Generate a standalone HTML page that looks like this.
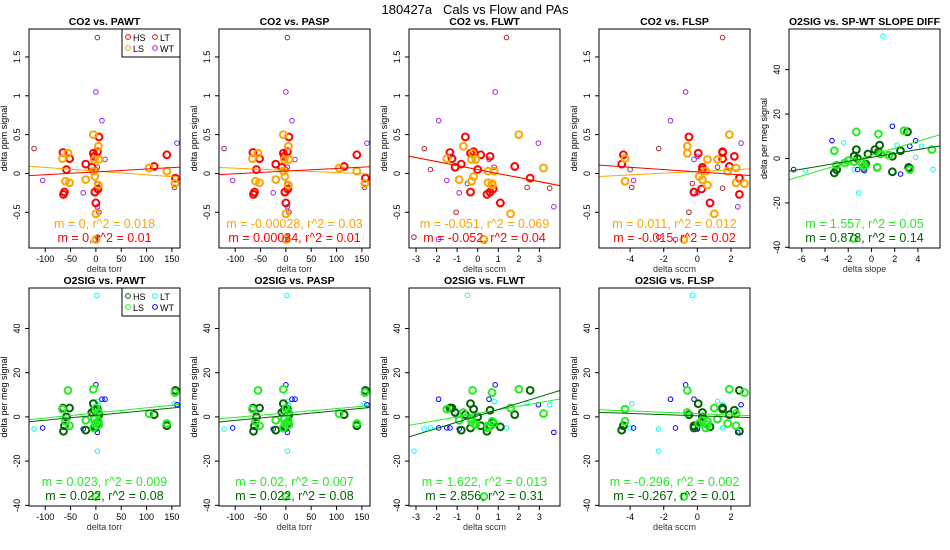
<!DOCTYPE html>
<html><head><meta charset="utf-8"><style>
body{margin:0;background:#fff;}
svg{display:block;font-family:"Liberation Sans",sans-serif;}
</style></head><body>
<svg id="c" width="950" height="550" viewBox="0 0 950 550">
<text x="475" y="14" font-size="13" text-anchor="middle" style="white-space:pre">180427a   Cals vs Flow and PAs</text>
</svg>
<script>
// record: [pawt, pasp, flwt, flsp, slope, co2, o2]
const hsPoints = [
[-65,-65,-1.35,1.5,-1.3,0.27,4],[-62,-62,0.6,-0.2,0.5,-0.24,-4],[-64,-64,0.45,2.5,-3.2,-0.27,-6.5],
[-58,-58,0,0.3,-1.2,0.05,0],[-52,-52,-1.25,1.5,0.3,0.19,4],[-20,-20,-0.8,-4.5,1.8,0.12,-6],
[-8,-8,-1.1,0.3,-0.3,0.08,2],[-5,-5,-0.35,0.05,0.7,0.26,6],[3,3,-0.2,1.5,2.5,0.28,3.5],
[6,6,-0.6,-0.5,-1.5,0.47,1],[-2,-2,-0.35,-0.2,-3,-0.24,-5],[0,0,1.1,0.75,3.3,-0.38,-4.5],
[4,4,0.75,0.25,-0.5,-0.2,-2.5],[115,115,1.8,1.9,1.8,0.09,1],[140,140,0.15,-4.4,3.2,0.24,-4],
[157,157,2.55,2.5,3.1,-0.06,12],[-3,-3,0.6,2.2,0.6,0.22,3]];
const lsPoints = [
[-66,-66,-1.5,-4.3,-3.2,0.19,3.5],[-55,-55,-0.25,-0.6,-1.3,0.26,12],[-60,-60,-0.3,-4.3,-2.3,-0.1,-2],
[-52,-52,0.5,2.3,0.5,-0.12,-4],[-20,-20,-0.9,0.3,-1.5,-0.08,-1.5],[-5,-5,2,1.9,2.8,0.5,12.5],
[5,5,-0.7,-0.6,0.8,0.35,2],[-2,-2,-0.2,0.1,-0.6,-0.04,-3],[-3,-3,-0.3,1.2,-2,0.18,-1],
[5,5,0.7,0.6,-0.8,-0.15,-2],[0,0,1.6,1.0,5.2,-0.52,4],[-5,-5,0.5,0.5,3.3,0.03,-5],
[105,105,3.2,2.3,1.5,0.07,1.5],[140,140,0.8,1.8,-3,0.03,-3],[156,156,0.7,2.8,0.6,-0.13,11],
[6,6,-0.1,0.6,-0.7,0.18,-3.5],[0,0,0.3,-0.8,-1.5,-0.85,-36]];
const ltPoints = [
[-122,-122,-2.6,-2.3,-5.7,0.32,-5.5],[155,155,2.4,-3.9,2.2,-0.18,6],[5,5,3.5,1.5,4.3,-0.19,5.5],
[3,3,0.8,1.2,-2.4,0.08,7],[6,6,-1.05,-0.5,3.8,-0.5,0.5],[3,3,-3.1,-2.3,-1.1,-0.82,-15.5],
[3,3,1.4,1.5,5.3,1.75,-5],[0,0,-2.3,-4,-1.5,0.05,-5],[2,2,-0.5,-0.3,1.0,-0.13,55]];
const wtPoints = [
[-105,-105,-1.5,-3.8,-6.7,-0.09,-5],[-25,-25,-0.9,0,-0.6,-0.25,-5.5],[0,0,0.85,-0.7,1.8,1.05,14.5],
[12,12,-1.9,-1.6,-3.4,0.68,8],[18,18,0.55,-0.2,3.8,0.18,8],[160,160,2.95,2.6,3.3,0.39,5.5],
[3,3,3.7,2.4,2.5,-0.43,-7],[0,0,-1.35,0,-1.2,0.22,-5],[-2,-2,-1.9,-1.3,-0.7,-0.85,-5]];
const panelTitles = ["CO2 vs. PAWT","CO2 vs. PASP","CO2 vs. FLWT","CO2 vs. FLSP","O2SIG vs. SP-WT SLOPE DIFF","O2SIG vs. PAWT","O2SIG vs. PASP","O2SIG vs. FLWT","O2SIG vs. FLSP"];
const xLabels = ["delta torr","delta torr","delta sccm","delta sccm","delta slope","delta torr","delta torr","delta sccm","delta sccm"];
const xVarIndex = [0,1,2,3,4,0,1,2,3];
const yVarIndex = [5,5,5,5,6,6,6,6,6];
const xTicks = [[-100,-50,0,50,100,150],[-100,-50,0,50,100,150],[-3,-2,-1,0,1,2,3],[-4,-2,0,2],[-6,-4,-2,0,2,4],[-100,-50,0,50,100,150],[-100,-50,0,50,100,150],[-3,-2,-1,0,1,2,3],[-4,-2,0,2]];
const xLimits = [[-132,166],[-132,166],[-3.34,4.0],[-5.85,3.13],[-7.1,5.9],[-132,166],[-132,166],[-3.34,4.0],[-5.85,3.13]];
const co2Ticks = [-0.5,0,0.5,1,1.5];
const o2Ticks = [-40,-20,0,20,40];
// fit lines [intercept, slope] for LS then HS
const lsFits = [[0.03,-0.00048],[0.04,-0.00028],[0.05,-0.051],[0.025,0.011],[1.5,1.557],[1.8,0.023],[1.8,0.02],[1.6,1.622],[1.5,-0.296]];
const hsFits = [[0.02,0.00037],[0.03,0.00034],[0.05,-0.052],[0.02,-0.015],[0.5,0.878],[0.7,0.022],[0.6,0.022],[0.5,2.856],[0.5,-0.267]];
const lsStats = ["m = 0, r^2 = 0.018","m = -0.00028, r^2 = 0.03","m = -0.051, r^2 = 0.069","m = 0.011, r^2 = 0.012","m = 1.557, r^2 = 0.05","m = 0.023, r^2 = 0.009","m = 0.02, r^2 = 0.007","m = 1.622, r^2 = 0.013","m = -0.296, r^2 = 0.002"];
const hsStats = ["m = 0, r^2 = 0.01","m = 0.00034, r^2 = 0.01","m = -0.052, r^2 = 0.04","m = -0.015, r^2 = 0.02","m = 0.878, r^2 = 0.14","m = 0.022, r^2 = 0.08","m = 0.022, r^2 = 0.08","m = 2.856, r^2 = 0.31","m = -0.267, r^2 = 0.01"];
const panelPos = [[0,0],[1,0],[2,0],[3,0],[4,0],[0,1],[1,1],[2,1],[3,1]];

const svg=document.getElementById('c');
const NS='http://www.w3.org/2000/svg';
function mk(tag,attrs,parent,txt){const e=document.createElementNS(NS,tag);for(const k in attrs)e.setAttribute(k,attrs[k]);if(txt!==undefined)e.textContent=txt;(parent||svg).appendChild(e);return e;}
const co2Col={hs:'#ff0000',ls:'#ffa500',lt:'#a52a2a',wt:'#a020f0'};
const o2Col={hs:'#006400',ls:'#22ee22',lt:'#00ffff',wt:'#0000ff'};

panelPos.forEach((p,i)=>{
  const c=p[0],r=p[1];
  const x0=29+190*c,x1=180+190*c;
  const y0=r?288:29,y1=r?506:248;
  const isCO2=yVarIndex[i]===5;
  const yLim=isCO2?[-0.96,1.86]:[-40.3,58.3];
  const cols=isCO2?co2Col:o2Col;
  const xl=xLimits[i];
  const sx=v=>x0+(v-xl[0])/(xl[1]-xl[0])*(x1-x0);
  const sy=v=>y1-(v-yLim[0])/(yLim[1]-yLim[0])*(y1-y0);
  const g=mk('g',{});
  
  
  const t=mk('text',{x:(x0+x1)/2,y:y0-4,'font-size':10.5,'font-weight':'bold','text-anchor':'middle'},g,panelTitles[i]);
  
  
  const clipId='cl'+i;
  const cp=mk('clipPath',{id:clipId},g);mk('rect',{x:x0,y:y0,width:x1-x0,height:y1-y0},cp);
  const pg=mk('g',{'clip-path':'url(#'+clipId+')'},g);
  const groups=[['lt',ltPoints,false],['wt',wtPoints,false],['hs',hsPoints,true],['ls',lsPoints,true]];
  groups.forEach(([k,arr,thick])=>{
    arr.forEach(d=>{
      const cc=mk('circle',{cx:sx(d[xVarIndex[i]]),cy:sy(d[yVarIndex[i]]),r:thick?3.4:2.3,fill:'none',stroke:cols[k],'stroke-width':thick?2:1},pg);
      
      
    });
  });
  [[lsFits[i],cols.ls],[hsFits[i],cols.hs]].forEach(([f,col])=>{
    const ln=mk('line',{x1:sx(xl[0]),y1:sy(f[0]+f[1]*xl[0]),x2:sx(xl[1]),y2:sy(f[0]+f[1]*xl[1]),stroke:col,'stroke-width':1},pg);
    
    
  });
  const s1=mk('text',{x:(x0+x1)/2,y:y1-20,'font-size':12.5,fill:cols.ls,'text-anchor':'middle'},g,lsStats[i]);
  
  
  const s2=mk('text',{x:(x0+x1)/2,y:y1-6,'font-size':12.5,fill:cols.hs,'text-anchor':'middle'},g,hsStats[i]);
  
  
  const box=mk('rect',{x:x0,y:y0,width:x1-x0,height:y1-y0,fill:'none',stroke:'#000','stroke-width':1},g);
  
  
  xTicks[i].forEach(v=>{
    const X=sx(v);
    mk('line',{x1:X,y1:y1,x2:X,y2:y1+4,stroke:'#000'},g);
    const tl=mk('text',{x:X,y:y1+14,'font-size':9,'text-anchor':'middle'},g,String(v));
    
    
  });
  const xt=mk('text',{x:(x0+x1)/2,y:y1+24,'font-size':9,'text-anchor':'middle',fill:'#333'},g,xLabels[i]);
  
  
  (isCO2?co2Ticks:o2Ticks).forEach(v=>{
    const Y=sy(v);
    mk('line',{x1:x0-4,y1:Y,x2:x0,y2:Y,stroke:'#000'},g);
    const tl=mk('text',{x:x0-9,y:Y,'font-size':9,'text-anchor':'middle',transform:'rotate(-90 '+(x0-9)+' '+Y+')'},g,String(v));
    
    
  });
  const yy=(y0+y1)/2;
  const yt=mk('text',{x:x0-22,y:yy,'font-size':9,'text-anchor':'middle',transform:'rotate(-90 '+(x0-22)+' '+yy+')'},g,isCO2?'delta ppm signal':'delta per meg signal');
  
  
  if(c===0){
    const lg=mk('g',{},g);
    
    
    mk('rect',{x:x1-58,y:y0,width:58,height:28,fill:'#fff',stroke:'#000'},lg);
    [['HS','hs',0,0],['LS','ls',0,1],['LT','lt',1,0],['WT','wt',1,1]].forEach(([lab,k,cx,cy])=>{
      const lx=x1-52+cx*27,ly=y0+9+cy*11;
      mk('circle',{cx:lx,cy:ly-1,r:2.4,fill:'none',stroke:cols[k]},lg);
      const lt=mk('text',{x:lx+5,y:ly+3,'font-size':9},lg,lab);
      
      
    });
  }
});
</script>
</body></html>
